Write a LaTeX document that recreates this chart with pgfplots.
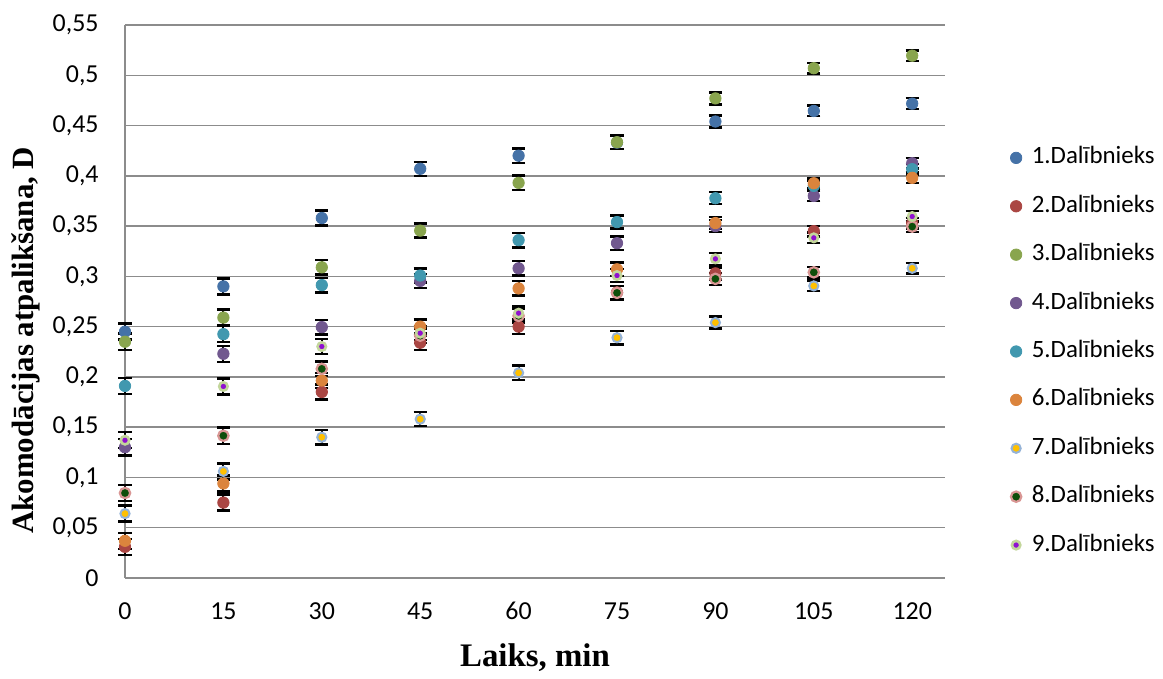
\documentclass[border=0pt]{standalone}
\usepackage{fontspec}
\setmainfont{Carlito}
\newfontfamily\timesfont{Liberation Serif}
\usepackage{pgfplots}
\usepackage{pgfplotstable}
\pgfplotsset{compat=1.18}

\definecolor{c1}{HTML}{4572A7}
\definecolor{c2}{HTML}{AA4643}
\definecolor{c3}{HTML}{89A54E}
\definecolor{c4}{HTML}{71588F}
\definecolor{c5}{HTML}{4198AF}
\definecolor{c6}{HTML}{DB843D}
\definecolor{c7}{HTML}{FFC000}
\definecolor{r7}{HTML}{95B3D7}
\definecolor{c8}{HTML}{0E4E0A}
\definecolor{r8}{HTML}{D99694}
\definecolor{c9}{HTML}{9010D0}
\definecolor{r9}{HTML}{C3D69B}
\definecolor{gridgray}{HTML}{8C8C8C}

\pgfplotstableread{
x y e
0 0.245 0.008
15 0.290 0.008
30 0.358 0.0073
45 0.407 0.007
60 0.420 0.0072
75 0.433 0.0066
90 0.454 0.006
105 0.4645 0.0053
120 0.4718 0.0053
}\sA
\pgfplotstableread{
x y e
0 0.031 0.008
15 0.075 0.008
30 0.185 0.0073
45 0.234 0.007
60 0.250 0.0072
75 0.284 0.0066
90 0.303 0.006
105 0.345 0.0053
120 0.353 0.0053
}\sB
\pgfplotstableread{
x y e
0 0.235 0.008
15 0.259 0.008
30 0.309 0.0073
45 0.3455 0.007
60 0.393 0.0072
75 0.4334 0.0066
90 0.477 0.006
105 0.507 0.0053
120 0.5195 0.0053
}\sC
\pgfplotstableread{
x y e
0 0.130 0.008
15 0.223 0.008
30 0.2495 0.0073
45 0.2955 0.007
60 0.308 0.0072
75 0.333 0.0066
90 0.350 0.006
105 0.380 0.0053
120 0.4125 0.0053
}\sD
\pgfplotstableread{
x y e
0 0.191 0.008
15 0.2425 0.008
30 0.2913 0.0073
45 0.3008 0.007
60 0.336 0.0072
75 0.354 0.0066
90 0.3777 0.006
105 0.390 0.0053
120 0.4066 0.0053
}\sE
\pgfplotstableread{
x y e
0 0.037 0.008
15 0.094 0.008
30 0.1964 0.0073
45 0.250 0.007
60 0.288 0.0072
75 0.307 0.0066
90 0.353 0.006
105 0.3926 0.0053
120 0.398 0.0053
}\sF
\pgfplotstableread{
x y e
0 0.064 0.008
15 0.106 0.008
30 0.140 0.0073
45 0.158 0.007
60 0.204 0.0072
75 0.239 0.0066
90 0.254 0.006
105 0.2905 0.0053
120 0.308 0.0053
}\sG
\pgfplotstableread{
x y e
0 0.0845 0.008
15 0.1415 0.008
30 0.208 0.0073
45 0.241 0.007
60 0.2607 0.0072
75 0.2836 0.0066
90 0.2975 0.006
105 0.304 0.0053
120 0.3495 0.0053
}\sH
\pgfplotstableread{
x y e
0 0.137 0.008
15 0.1905 0.008
30 0.2302 0.0073
45 0.2435 0.007
60 0.2634 0.0072
75 0.3008 0.0066
90 0.3174 0.006
105 0.3383 0.0053
120 0.3595 0.0053
}\sI

\begin{document}
\begin{tikzpicture}
\begin{axis}[
  scale only axis,
  width=410bp, height=276.5bp,
  xmin=0, xmax=125, ymin=0, ymax=0.55,
  clip=false,
  xtick={0,15,30,45,60,75,90,105,120},
  ytick={0,0.05,0.1,0.15,0.2,0.25,0.3,0.35,0.4,0.45,0.5,0.55},
  axis x line*=bottom, axis y line*=left,
  axis line style={draw=gridgray, line width=0.9bp, -},
  major tick length=0pt,
  ymajorgrids,
  grid style={draw=gridgray, line width=0.75bp},
  /pgf/number format/assume math mode=true,
  yticklabel style={/pgf/number format/fixed, /pgf/number format/precision=2,
    /pgf/number format/use comma, font=\fontsize{13}{15}\selectfont,
    inner sep=0pt, anchor=east, xshift=-13bp},
  xticklabel style={font=\fontsize{13}{15}\selectfont, inner sep=0pt, anchor=north, yshift=-12bp},
  xlabel={Laiks, min},
  ylabel={Akomodācijas atpalikšana, D},
  every axis x label/.style={at={(axis description cs:0.5,0)}, anchor=base, yshift=-44.5bp,
    font=\timesfont\bfseries\fontsize{16.5}{18}\selectfont},
  every axis y label/.style={at={(axis description cs:-0.1213,0.430)}, rotate=90, anchor=center,
    font=\timesfont\bfseries\fontsize{15.5}{18}\selectfont},
  legend style={at={(axis description cs:1.0793,0.4096)}, anchor=west, draw=none, fill=none,
    font=\fontsize{12.5}{14}\selectfont, inner sep=0pt, row sep=13.2bp, column sep=5bp,
    nodes={inner sep=0pt, text height=8.5bp, text depth=2.5bp}},
  legend cell align=left,
  legend image code/.code={\draw[#1] plot coordinates {(2.6bp,0bp)};},
  every axis plot/.append style={only marks,
    error bars/y dir=both, error bars/y explicit,
    error bars/error bar style={black, line width=0.9bp},
    error bars/error mark options={black, rotate=90, mark size=3.3bp, line width=1.2bp}},
]
\addplot[mark=*, mark size=2.85bp, mark options={fill=c1, draw=c1}] table[x=x, y=y, y error=e]{\sA};
\addlegendentry{1.Dalībnieks}
\addplot[mark=*, mark size=2.85bp, mark options={fill=c2, draw=c2}] table[x=x, y=y, y error=e]{\sB};
\addlegendentry{2.Dalībnieks}
\addplot[mark=*, mark size=2.85bp, mark options={fill=c3, draw=c3}] table[x=x, y=y, y error=e]{\sC};
\addlegendentry{3.Dalībnieks}
\addplot[mark=*, mark size=2.85bp, mark options={fill=c4, draw=c4}] table[x=x, y=y, y error=e]{\sD};
\addlegendentry{4.Dalībnieks}
\addplot[mark=*, mark size=2.85bp, mark options={fill=c5, draw=c5}] table[x=x, y=y, y error=e]{\sE};
\addlegendentry{5.Dalībnieks}
\addplot[mark=*, mark size=2.85bp, mark options={fill=c6, draw=c6}] table[x=x, y=y, y error=e]{\sF};
\addlegendentry{6.Dalībnieks}
\addplot[mark=*, mark size=2.3bp, mark options={fill=c7, draw=r7, line width=1bp}] table[x=x, y=y, y error=e]{\sG};
\addlegendentry{7.Dalībnieks}
\addplot[mark=*, mark size=2.6bp, mark options={fill=c8, draw=r8, line width=1.1bp}] table[x=x, y=y, y error=e]{\sH};
\addlegendentry{8.Dalībnieks}
\addplot[mark=*, mark size=2.1bp, mark options={fill=c9, draw=r9, line width=1.3bp}] table[x=x, y=y, y error=e]{\sI};
\addlegendentry{9.Dalībnieks}
\end{axis}
\path[use as bounding box] (-62.5bp,-46.5bp) rectangle (519bp,289bp);
\end{tikzpicture}
\end{document}
